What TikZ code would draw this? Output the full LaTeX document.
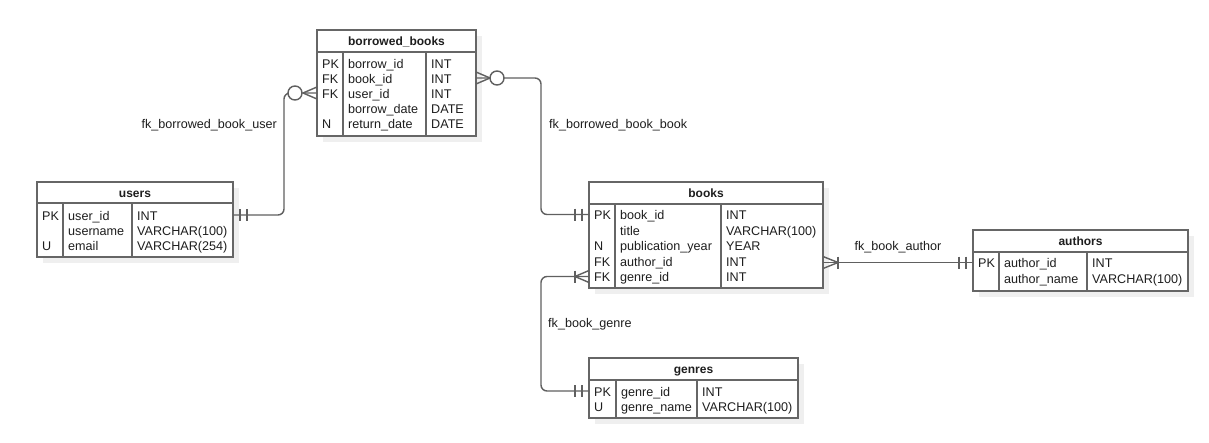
\documentclass[tikz,border=0pt]{standalone}
\usepackage{fontspec}
\setmainfont{Liberation Sans}
\usetikzlibrary{calc}
\definecolor{linec}{HTML}{606060}
\definecolor{boxc}{HTML}{666666}
\definecolor{shadowc}{HTML}{EFEFEF}
\definecolor{textc}{HTML}{1E1E1E}
\tikzset{
  tbox/.style={draw=boxc, line width=1.4pt, inner sep=0pt, outer sep=0pt, rectangle},
  tline/.style={draw=boxc, line width=1.4pt},
  conn/.style={draw=linec, line width=1.4pt, rounded corners=6pt},
  marker/.style={draw=linec, line width=1.4pt},
  htext/.style={font=\fontsize{12}{14}\selectfont\bfseries, text=textc, inner sep=0pt, anchor=base},
  ctext/.style={font=\fontsize{12.6}{15}\selectfont, text=textc, inner sep=0pt, anchor=base west},
}
% table frame: name, x1, y1, x2, y2, yheader, col1, col2, title
\newcommand\ertable[9]{%
  \fill[shadowc] (#2+6,#3+6) rectangle (#4+6,#5+6);
  \fill[white] (#2,#3) rectangle (#4,#5);
  \draw[tline] (#2,#6) -- (#4,#6);
  \draw[tline] (#7,#6) -- (#7,#5);
  \draw[tline] (#8,#6) -- (#8,#5);
  \node[tbox, anchor=north west, minimum width={#4-#2}, minimum height={#5-#3}] (#1) at (#2,#3) {};
  \node[htext] (#1-title) at ({(#2+#4)/2},{(#3+#6)/2+4.5}) {#9};
}
% table row: table, id, x0, col1, col2, baseline, key, name, type
\newcommand\errow[9]{%
  \coordinate (#1-#2) at (#3,#6-5);
  \node[ctext] (#1-#2-k) at (#3+5,#6) {#7};
  \node[ctext] (#1-#2-n) at (#4+5,#6) {#8};
  \node[ctext] (#1-#2-t) at (#5+5,#6) {#9};
}
\newcommand\barmark[2]{\draw[marker] (#1,#2-6) -- (#1,#2+6);}
% crow foot: edge x, vertex x, y
\newcommand\crowmark[3]{\draw[marker] (#2,#3) -- (#1,#3-6) (#2,#3) -- (#1,#3+6);}
\begin{document}
\begin{tikzpicture}[x=1pt,y=-1pt]
\useasboundingbox[fill=white] (0,0) rectangle (1209,442);

% ---------- tables ----------
\ertable{bb}{317}{30}{476}{136}{52}{343}{426}{borrowed\_books}
\errow{bb}{r1}{317}{343}{426}{68}{PK}{borrow\_id}{INT}
\errow{bb}{r2}{317}{343}{426}{83}{FK}{book\_id}{INT}
\errow{bb}{r3}{317}{343}{426}{98}{FK}{user\_id}{INT}
\errow{bb}{r4}{317}{343}{426}{113}{}{borrow\_date}{DATE}
\errow{bb}{r5}{317}{343}{426}{128}{N}{return\_date}{DATE}

\ertable{users}{37}{182}{233}{257}{203}{63}{132}{users}
\errow{users}{r1}{37}{63}{132}{220}{PK}{user\_id}{INT}
\errow{users}{r2}{37}{63}{132}{235}{}{username}{VARCHAR(100)}
\errow{users}{r3}{37}{63}{132}{250}{U}{email}{VARCHAR(254)}

\ertable{books}{589}{182}{823}{288}{204}{615}{721}{books}
\errow{books}{r1}{589}{615}{721}{219.5}{PK}{book\_id}{INT}
\errow{books}{r2}{589}{615}{721}{235}{}{title}{VARCHAR(100)}
\errow{books}{r3}{589}{615}{721}{250.5}{N}{publication\_year}{YEAR}
\errow{books}{r4}{589}{615}{721}{266}{FK}{author\_id}{INT}
\errow{books}{r5}{589}{615}{721}{281.5}{FK}{genre\_id}{INT}

\ertable{authors}{973}{230}{1188}{291}{252}{999}{1087}{authors}
\errow{authors}{r1}{973}{999}{1087}{267.5}{PK}{author\_id}{INT}
\errow{authors}{r2}{973}{999}{1087}{283}{}{author\_name}{VARCHAR(100)}

\ertable{genres}{589}{358}{798}{418}{380}{616}{697}{genres}
\errow{genres}{r1}{589}{616}{697}{396}{PK}{genre\_id}{INT}
\errow{genres}{r2}{589}{616}{697}{411.5}{U}{genre\_name}{VARCHAR(100)}

% ---------- connectors ----------
% fk_borrowed_book_user
\draw[conn] (users.east |- users-r1) -| (284,150) |- (bb.west |- bb-r3);
\barmark{240}{215}\barmark{247}{215}
\crowmark{317}{303}{93}
\draw[marker, fill=white] (295,93) circle (7pt);

% fk_borrowed_book_book
\draw[conn] (bb.east |- bb-r2) -| (541,150) |- (books.west |- books-r1);
\crowmark{476}{490}{78}
\draw[marker, fill=white] (497,78) circle (7pt);
\barmark{575}{214.5}\barmark{582}{214.5}

% fk_book_author
\draw[conn] (books.east |- authors-r1) -- (authors.west |- authors-r1);
\crowmark{823}{838}{262.5}\barmark{838}{262.5}
\barmark{959}{262.5}\barmark{966}{262.5}

% fk_book_genre
\draw[conn] (books.west |- books-r5) -| (541,330) |- (genres.west |- genres-r1);
\crowmark{589}{575}{276.5}\barmark{575}{276.5}
\barmark{575}{391}\barmark{582}{391}

% ---------- labels ----------
\node[ctext, anchor=base east] (lab-user) at (277,128) {fk\_borrowed\_book\_user};
\node[ctext] (lab-book) at (549,128) {fk\_borrowed\_book\_book};
\node[ctext, anchor=base] (lab-author) at (898,250) {fk\_book\_author};
\node[ctext] (lab-genre) at (548,327) {fk\_book\_genre};
\end{tikzpicture}
\end{document}
